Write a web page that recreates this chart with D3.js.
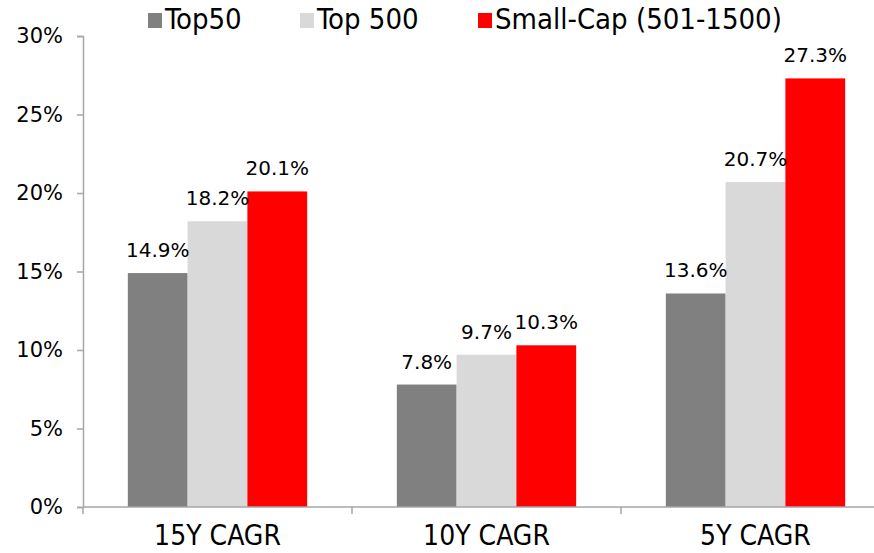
<!DOCTYPE html>
<html lang="en">
<head>
<meta charset="UTF-8">
<title>CAGR by Segment</title>
<style>
    body { margin: 0; background: #fff; }
    svg { display: block; }
</style>
</head>
<body>
<script src="https://cdn.jsdelivr.net/npm/d3@7"></script>
<script>

    var categories = ['15Y CAGR', '10Y CAGR', '5Y CAGR'];
    var seriesNames = ['Top50', 'Top 500', 'Small-Cap (501-1500)'];
    var top50 = [14.9, 7.8, 13.6];
    var top500 = [18.2, 9.7, 20.7];
    var smallCap = [20.1, 10.3, 27.3];
    var yTicks = [0, 5, 10, 15, 20, 25, 30];

    var colors = ['#808080', '#d9d9d9', '#ff0000'];
    var series = [top50, top500, smallCap];

    var width = 874,
        height = 553;

    var narrow = '"Liberation Sans Narrow", "DejaVu Sans Condensed", sans-serif';
    var wide = '"DejaVu Sans", sans-serif';

    var svg = d3.select('body').append('svg')
        .attr('width', width)
        .attr('height', height);

    var y = d3.scaleLinear()
        .domain([0, 30])
        .range([507, 36]);

    // last category runs past the right edge, as in the original
    var x0 = d3.scaleBand()
        .domain(categories)
        .range([83, 890])
        .paddingInner(0)
        .paddingOuter(0);

    var x1 = d3.scaleBand()
        .domain(d3.range(series.length))
        .range([0, x0.bandwidth()])
        .paddingInner(0)
        .paddingOuter(0.75);

    var axisColor = '#a6a6a6';

    // bars
    var groups = svg.selectAll('.group')
        .data(categories)
        .enter()
        .append('g')
        .attr('transform', d => 'translate(' + x0(d) + ',0)');

    groups.selectAll('rect')
        .data((c, ci) => series.map((s, si) => ({si: si, v: s[ci]})))
        .enter()
        .append('rect')
        .attr('x', d => x1(d.si))
        .attr('y', d => y(d.v))
        .attr('width', x1.bandwidth())
        .attr('height', d => y(0) - y(d.v))
        .attr('fill', d => colors[d.si]);

    groups.selectAll('.label')
        .data((c, ci) => series.map((s, si) => ({si: si, v: s[ci]})))
        .enter()
        .append('text')
        .attr('x', d => x1(d.si) + x1.bandwidth() / 2)
        .attr('y', d => y(d.v) - 16)
        .attr('text-anchor', 'middle')
        .attr('font-family', wide)
        .attr('font-size', 20)
        .attr('fill', '#000')
        .text(d => d.v.toFixed(1) + '%');

    // y axis
    var yAxis = d3.axisLeft(y)
        .tickValues(yTicks)
        .tickSize(6)
        .tickPadding(14)
        .tickFormat(d => d + '%');

    var gy = svg.append('g')
        .attr('transform', 'translate(83,0)')
        .call(yAxis);
    gy.select('.domain').attr('stroke', axisColor).attr('stroke-width', 1.5);
    gy.selectAll('.tick line').attr('stroke', axisColor).attr('stroke-width', 1.5);
    gy.selectAll('.tick text')
        .attr('font-family', wide)
        .attr('font-size', 21)
        .attr('fill', '#000');

    // x axis
    svg.append('line')
        .attr('x1', 83).attr('x2', width)
        .attr('y1', y(0)).attr('y2', y(0))
        .attr('stroke', axisColor)
        .attr('stroke-width', 1.5);

    svg.selectAll('.xtick')
        .data(categories)
        .enter()
        .append('line')
        .attr('x1', d => x0(d)).attr('x2', d => x0(d))
        .attr('y1', y(0)).attr('y2', y(0) + 7)
        .attr('stroke', axisColor)
        .attr('stroke-width', 1.5);

    svg.selectAll('.xlabel')
        .data(categories)
        .enter()
        .append('text')
        .attr('x', d => x0(d) + x0.bandwidth() / 2)
        .attr('y', 545)
        .attr('text-anchor', 'middle')
        .attr('font-family', narrow)
        .attr('font-size', 28)
        .attr('fill', '#000')
        .text(d => d);

    // legend
    var legendX = [148, 300, 478];
    var legend = svg.selectAll('.legend')
        .data(seriesNames)
        .enter()
        .append('g')
        .attr('transform', (d, i) => 'translate(' + legendX[i] + ',13)');

    legend.append('rect')
        .attr('width', 14)
        .attr('height', 15)
        .attr('fill', (d, i) => colors[i]);

    legend.append('text')
        .attr('x', 17)
        .attr('y', 16)
        .attr('font-family', narrow)
        .attr('font-size', 29)
        .attr('fill', '#000')
        .text(d => d);
</script>
</body>
</html>
